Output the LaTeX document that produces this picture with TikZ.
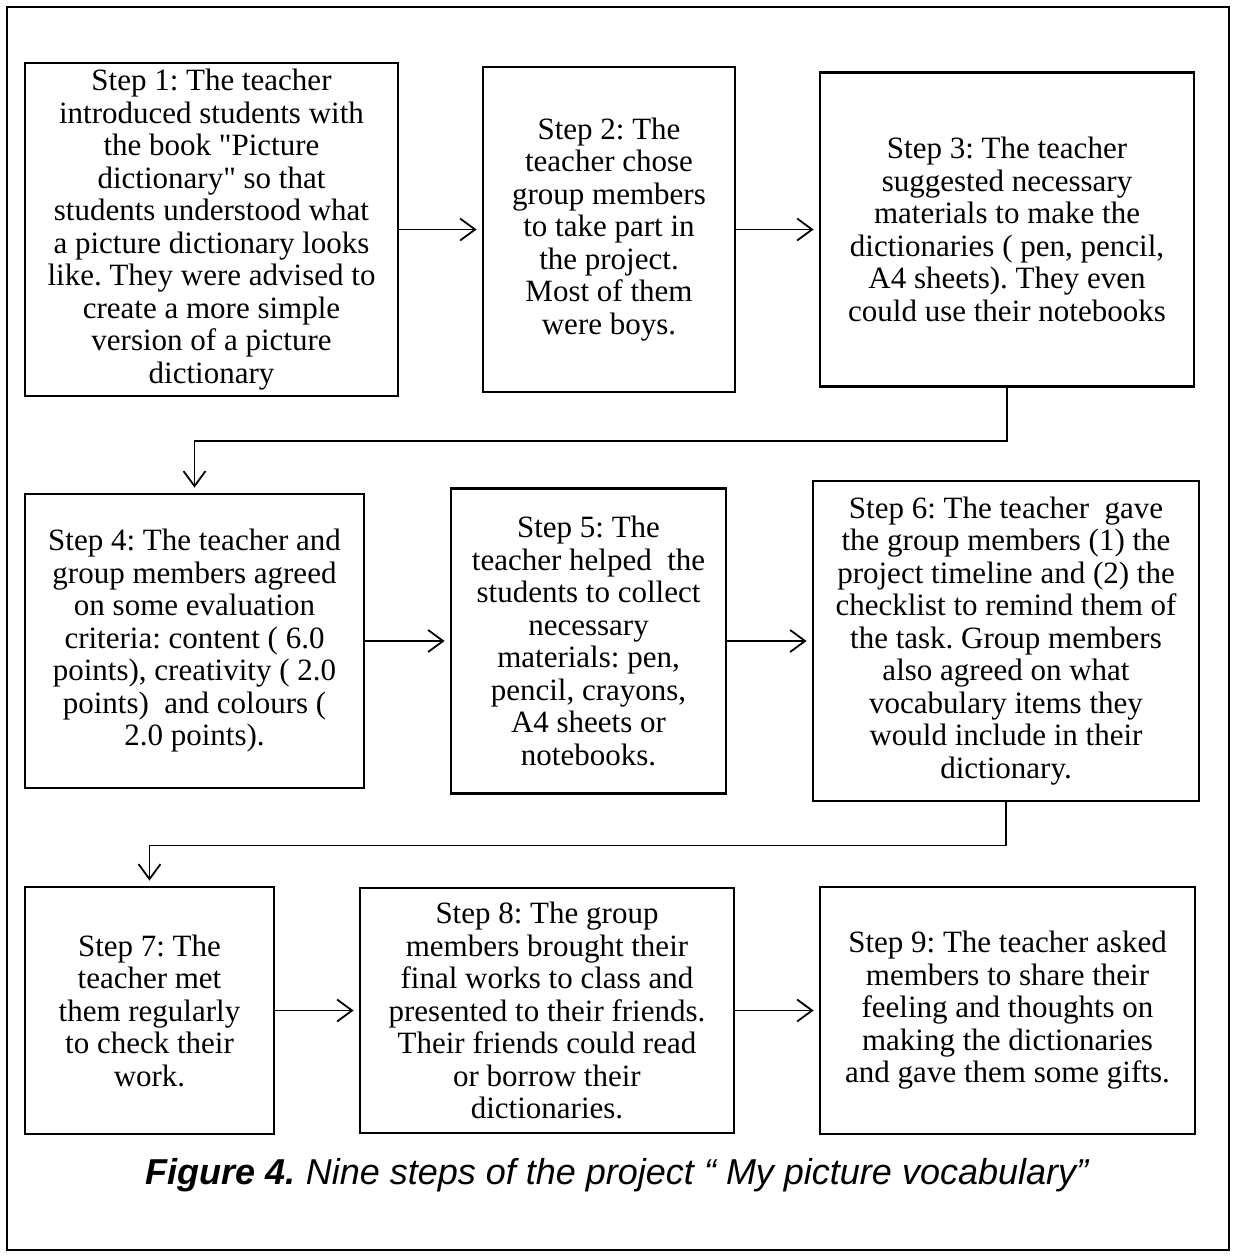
\documentclass[tikz,border=0pt]{standalone}
\usepackage{fontspec}
\setmainfont{Liberation Serif}[Ligatures=TeXOff]
\newfontfamily\capfont{Liberation Sans}
\usetikzlibrary{arrows.meta}
\begin{document}
\frenchspacing
\begin{tikzpicture}[x=1pt,y=-1pt,
  stepbox/.style={draw, line width=2.8pt, align=center, inner sep=0pt, anchor=center,
    font=\fontsize{31}{32.5}\selectfont},
  conn/.style={line width=1.8pt, -{Straight Barb[length=15pt,width=22pt]}, shorten >=5pt}]
\useasboundingbox (0,0) rectangle (1235,1256);
\draw[line width=2.2pt] (7,7) rectangle (1229,1250);

% Row 1
\node[stepbox, minimum width=373pt, minimum height=333pt] (B1) at (211.5,229.5)
 {Step 1: The teacher\\introduced students with\\the book "Picture\\dictionary" so that\\students understood what\\a picture dictionary looks\\like. They were advised to\\create a more simple\\version of a picture\\dictionary};
\node[stepbox, minimum width=252pt, minimum height=325pt] (B2) at (609,229.5)
 {Step 2: The\\teacher chose\\group members\\to take part in\\the project.\\Most of them\\were boys.};
\node[stepbox, minimum width=374pt, minimum height=314pt] (B3) at (1007,229.5)
 {Step 3: The teacher\\suggested necessary\\materials to make the\\dictionaries ( pen, pencil,\\A4 sheets). They even\\could use their notebooks};

% Row 2
\node[stepbox, minimum width=339pt, minimum height=294pt] (B4) at (194.5,641)
 {Step 4: The teacher and\\group members agreed\\on some evaluation\\criteria: content ( 6.0\\points), creativity ( 2.0\\points)\ \ and colours (\\2.0 points).};
\node[stepbox, minimum width=275pt, minimum height=305pt] (B5) at (588.5,641)
 {Step 5: The\\teacher helped\ \ the\\students to collect\\necessary\\materials: pen,\\pencil, crayons,\\A4 sheets or\\notebooks.};
\node[stepbox, minimum width=386pt, minimum height=320pt] (B6) at (1006,641)
 {Step 6: The teacher\ \ gave\\the group members (1) the\\project timeline and (2) the\\checklist to remind them of\\the task. Group members\\also agreed on what\\vocabulary items they\\would include in their\\dictionary.};

% Row 3
\node[stepbox, minimum width=249pt, minimum height=247pt] (B7) at (149.5,1010.5)
 {Step 7: The\\teacher met\\them regularly\\to check their\\work.};
\node[stepbox, minimum width=374pt, minimum height=245pt] (B8) at (547,1010.5)
 {Step 8: The group\\members brought their\\final works to class and\\presented to their friends.\\Their friends could read\\or borrow their\\dictionaries.};
\node[stepbox, minimum width=375pt, minimum height=247pt] (B9) at (1007.5,1010.5)
 {Step 9: The teacher asked\\members to share their\\feeling and thoughts on\\making the dictionaries\\and gave them some gifts.};

% Connectors
\draw[conn] (B1.east) -- (B2.west);
\draw[conn] (B2.east) -- (B3.west);
\draw[conn] (B3.south) -- ++(0,53) -| (B4.north);
\draw[conn] (B4.east) -- (B5.west);
\draw[conn] (B5.east) -- (B6.west);
\draw[conn] (B6.south) -- ++(0,43) -| (B7.north);
\draw[conn] (B7.east) -- (B8.west);
\draw[conn] (B8.east) -- (B9.west);

% Caption
\node[anchor=base, font=\capfont\itshape\fontsize{36}{40}\selectfont] (cap) at (617,1184)
 {\textbf{Figure 4.} Nine steps of the project “ My picture vocabulary”};
\end{tikzpicture}
\end{document}
